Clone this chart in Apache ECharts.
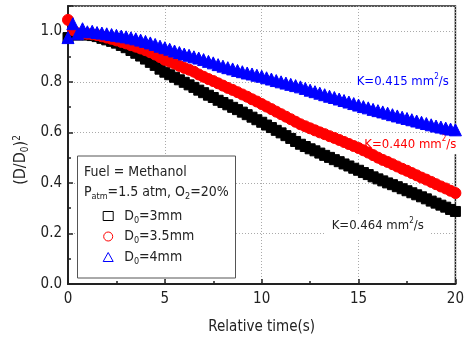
<!DOCTYPE html>
<html>
<head>
<meta charset="utf-8">
<script src="https://cdn.jsdelivr.net/npm/echarts@6/dist/echarts.min.js"></script>
<style>
  html, body { margin: 0; padding: 0; background: #fff; }
  #chart { width: 467px; height: 340px; }
</style>
</head>
<body>
<div id="chart"></div>
<script>
// sample times (s)
const times = [
  0, 0.25, 0.5, 0.75, 1, 1.25, 1.5, 1.75, 2, 2.25, 2.5, 2.75, 3, 3.25, 3.5, 3.75,
  4, 4.25, 4.5, 4.75, 5, 5.25, 5.5, 5.75, 6, 6.25, 6.5, 6.75, 7, 7.25, 7.5, 7.75,
  8, 8.25, 8.5, 8.75, 9, 9.25, 9.5, 9.75, 10, 10.25, 10.5, 10.75, 11, 11.25, 11.5, 11.75,
  12, 12.25, 12.5, 12.75, 13, 13.25, 13.5, 13.75, 14, 14.25, 14.5, 14.75, 15, 15.25, 15.5, 15.75,
  16, 16.25, 16.5, 16.75, 17, 17.25, 17.5, 17.75, 18, 18.25, 18.5, 18.75, 19, 19.25, 19.5, 19.75, 20
];

// (D/D0)^2, D0 = 3mm
const d3mm = [
  0.975, 0.99, 0.985, 0.988, 0.985, 0.983, 0.979, 0.972, 0.966, 0.96, 0.953, 0.944, 0.935, 0.924, 0.913, 0.902,
  0.89, 0.877, 0.865, 0.85, 0.838, 0.828, 0.818, 0.808, 0.798, 0.788, 0.778, 0.767, 0.757, 0.747, 0.738, 0.727,
  0.718, 0.709, 0.699, 0.69, 0.68, 0.67, 0.66, 0.65, 0.64, 0.629, 0.619, 0.608, 0.598, 0.587, 0.576, 0.564,
  0.553, 0.544, 0.535, 0.527, 0.518, 0.509, 0.501, 0.492, 0.484, 0.475, 0.467, 0.458, 0.45, 0.441, 0.433, 0.424,
  0.416, 0.408, 0.4, 0.393, 0.385, 0.377, 0.369, 0.361, 0.353, 0.345, 0.337, 0.328, 0.32, 0.312, 0.304, 0.295, 0.287
];

// D0 = 3.5mm
const d35mm = [
  1.045, 1.005, 0.992, 0.99, 0.99, 0.988, 0.985, 0.98, 0.975, 0.97, 0.964, 0.958, 0.952, 0.945, 0.939, 0.932,
  0.925, 0.917, 0.908, 0.898, 0.887, 0.88, 0.872, 0.863, 0.855, 0.848, 0.84, 0.829, 0.82, 0.811, 0.803, 0.794,
  0.785, 0.776, 0.768, 0.759, 0.75, 0.741, 0.731, 0.722, 0.712, 0.702, 0.692, 0.682, 0.672, 0.662, 0.652, 0.642,
  0.632, 0.624, 0.616, 0.608, 0.6, 0.593, 0.585, 0.578, 0.57, 0.562, 0.554, 0.546, 0.538, 0.529, 0.52, 0.51,
  0.5, 0.491, 0.483, 0.474, 0.465, 0.456, 0.448, 0.439, 0.43, 0.421, 0.413, 0.404, 0.395, 0.386, 0.378, 0.369, 0.36
];

// D0 = 4mm
const d4mm = [
  0.975, 1.03, 0.99, 1.01, 0.998, 1.0, 0.995, 0.993, 0.99, 0.987, 0.984, 0.981, 0.978, 0.974, 0.97, 0.965,
  0.96, 0.954, 0.948, 0.941, 0.935, 0.929, 0.922, 0.916, 0.91, 0.905, 0.899, 0.894, 0.888, 0.881, 0.875, 0.868,
  0.862, 0.856, 0.851, 0.845, 0.84, 0.835, 0.831, 0.826, 0.822, 0.816, 0.811, 0.805, 0.8, 0.795, 0.79, 0.785,
  0.78, 0.774, 0.767, 0.761, 0.755, 0.749, 0.743, 0.738, 0.732, 0.726, 0.72, 0.714, 0.708, 0.702, 0.697, 0.691,
  0.686, 0.681, 0.676, 0.67, 0.665, 0.66, 0.655, 0.65, 0.645, 0.64, 0.635, 0.63, 0.625, 0.621, 0.617, 0.613, 0.61
];

const seriesNames = ['D0=3mm', 'D0=3.5mm', 'D0=4mm'];
const seriesColors = ['#000000', '#ff0000', '#0000ff'];
const seriesSymbols = ['rect', 'circle', 'triangle'];
const seriesSizes = [10, 11, 12];
const seriesValues = [d3mm, d35mm, d4mm];
const rateLabels = ['K=0.464', 'K=0.440', 'K=0.415'];

const font = "'DejaVu Sans Condensed', 'DejaVu Sans', sans-serif";
const ink = '#222';

const chart = echarts.init(document.getElementById('chart'));

function richSet(size, colorKey, color) {
  const r = {
    n: { fontSize: size, fontFamily: font, lineHeight: 18 },
    s: { fontSize: Math.round(size * 0.65), fontFamily: font, lineHeight: 8, verticalAlign: 'bottom' },
    p: { fontSize: Math.round(size * 0.65), fontFamily: font, lineHeight: 8, verticalAlign: 'top' },
    sp: { width: 6, fontSize: size, fontFamily: font }
  };
  Object.keys(r).forEach(k => { r[k][colorKey] = color; });
  return r;
}

function rateText(x, y, text, color, padding) {
  return {
    type: 'text',
    x: x,
    y: y,
    z: 1,
    style: {
      text: '{n|' + text + ' mm}{p|2}{n|/s}',
      rich: richSet(13, 'fill', color),
      align: 'left',
      verticalAlign: 'middle',
      backgroundColor: '#fff',
      padding: padding
    }
  };
}

const option = {
  animation: false,
  textStyle: { fontFamily: font },
  grid: {
    left: 68, right: 9, top: 6, bottom: 53,
    show: true, borderColor: ink, borderWidth: 1.5
  },
  xAxis: {
    type: 'value', min: 0, max: 20, interval: 5,
    axisLine: { show: true, onZero: false, lineStyle: { color: ink, width: 2 } },
    axisTick: { inside: true, length: 5, lineStyle: { color: ink, width: 1.5 } },
    minorTick: { show: true, splitNumber: 2, length: 3, lineStyle: { color: ink, width: 1.5 } },
    splitLine: { show: true, lineStyle: { color: '#aaa', type: [1, 2], width: 1 } },
    axisLabel: { color: ink, fontSize: 15, margin: 8, fontFamily: font },
    name: 'Relative time(s)', nameLocation: 'middle', nameGap: 36,
    nameTextStyle: { color: ink, fontSize: 15, fontFamily: font }
  },
  yAxis: {
    type: 'value', min: 0, max: 1.1, interval: 0.2,
    axisLine: { show: true, lineStyle: { color: ink, width: 2 } },
    axisTick: { inside: true, length: 5, lineStyle: { color: ink, width: 1.5 } },
    minorTick: { show: true, splitNumber: 2, length: 3, lineStyle: { color: ink, width: 1.5 } },
    splitLine: { show: true, lineStyle: { color: '#aaa', type: [1, 2], width: 1 } },
    axisLabel: {
      color: ink, fontSize: 15, margin: 6, fontFamily: font,
      formatter: v => (v <= 1.0001 ? v.toFixed(1) : '')
    }
  },
  legend: {
    orient: 'vertical', left: 97.7, top: 204, z: 10,
    itemWidth: 10, itemHeight: 9, itemGap: 4.5,
    data: seriesNames.map((n, i) => ({
      name: n,
      itemStyle: { color: '#fff', borderColor: seriesColors[i], borderWidth: 1 }
    })),
    formatter: name => '{sp|}{n|D}{s|0}{n|=' + name.split('=')[1] + '}',
    textStyle: { rich: richSet(14, 'color', ink) }
  },
  graphic: [
    {
      type: 'rect', z: 5,
      shape: { x: 77.5, y: 156, width: 158, height: 122 },
      style: { fill: '#fff', stroke: '#555', lineWidth: 1 }
    },
    {
      type: 'text', z: 6, x: 84, y: 172,
      style: {
        text: '{n|Fuel = Methanol}', rich: richSet(14, 'fill', ink),
        align: 'left', verticalAlign: 'middle'
      }
    },
    {
      type: 'text', z: 6, x: 84, y: 192,
      style: {
        text: '{n|P}{s|atm}{n|=1.5 atm, O}{s|2}{n|=20%}', rich: richSet(14, 'fill', ink),
        align: 'left', verticalAlign: 'middle'
      }
    },
    {
      type: 'text', z: 6, x: 21, y: 160, rotation: Math.PI / 2,
      style: {
        text: '{n|(D/D}{s|0}{n|)}{p|2}', rich: richSet(16, 'fill', ink),
        align: 'center', verticalAlign: 'middle'
      }
    },
    rateText(351.7, 81.7, rateLabels[2], '#0000ff', [3, 5, 3, 5]),
    rateText(362.3, 144.3, rateLabels[1], '#ff0000', [1, 2, 1, 2]),
    rateText(325.7, 226, rateLabels[0], ink, [3, 6, 4, 6])
  ],
  series: seriesNames.map((n, i) => ({
    name: n,
    type: 'scatter',
    symbol: seriesSymbols[i],
    symbolSize: seriesSizes[i],
    z: 2 + i,
    itemStyle: { color: seriesColors[i], borderColor: seriesColors[i], borderWidth: 1, opacity: 1 },
    data: times.map((t, j) => [t, seriesValues[i][j]])
  }))
};

chart.setOption(option);
</script>
</body>
</html>
